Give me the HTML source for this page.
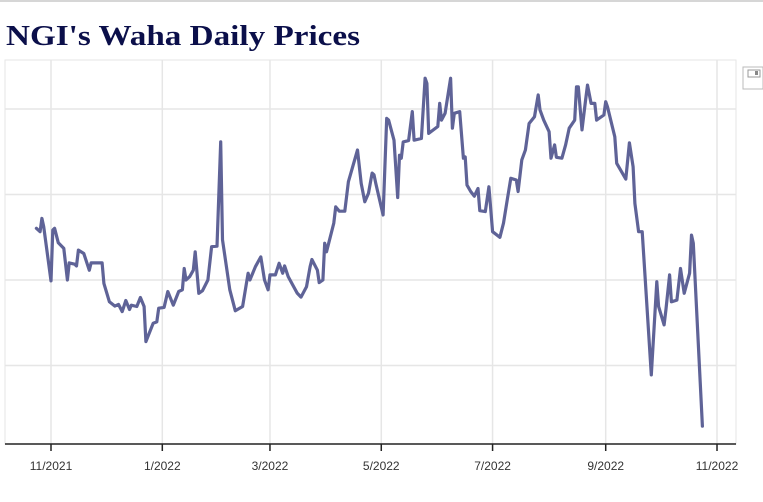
<!DOCTYPE html>
<html><head><meta charset="utf-8">
<style>
html,body{margin:0;padding:0;background:#fff;width:763px;height:502px;overflow:hidden}
svg{display:block}
</style></head>
<body>
<svg id="chart" width="763" height="502" viewBox="0 0 763 502" xmlns="http://www.w3.org/2000/svg">
<line x1="0" y1="1" x2="763" y2="1" stroke="#d6d6d6" stroke-width="2"/>
<text x="6" y="45" font-family="Liberation Serif, serif" font-weight="bold" font-size="28" fill="#0b0f4a" textLength="354" lengthAdjust="spacingAndGlyphs">NGI's Waha Daily Prices</text>
<rect x="5" y="60" width="731" height="384" fill="none" stroke="#e6e6e6" stroke-width="1"/>
<g id="grid"></g>
<g id="xaxis"></g>
<path id="series" fill="none" stroke="#5f6397" stroke-width="3.2" stroke-linejoin="round" stroke-linecap="round"/>
<g>
<rect x="743" y="67" width="20" height="22" fill="#fff" stroke="#bbb" stroke-width="1"/>
<rect x="748" y="70" width="12" height="7" fill="none" stroke="#999" stroke-width="1"/>
<rect x="755" y="71" width="3" height="4" fill="#888"/>
</g>
</svg>
<script>
// data: days since 2021-11-01 and price value
const days = [-8,-6,-5,-4,0,1,2,4,7,9,10,13,14,15,18,21,22,28,29,32,35,37,39,41,43,44,47,49,51,52,56,58,59,62,64,67,70,72,73,74,76,78,79,81,83,86,88,91,93,94,98,101,105,108,109,112,115,117,119,120,123,125,127,128,130,133,135,137,140,142,143,146,147,149,150,151,155,156,158,161,163,168,170,172,174,176,177,178,182,184,185,188,190,191,192,193,196,198,199,203,205,206,207,212,213,214,216,219,220,221,224,226,227,228,230,232,234,235,238,240,242,246,248,250,252,255,256,258,260,262,265,267,268,270,273,274,276,277,280,282,284,287,288,289,291,293,294,296,298,299,303,304,305,309,310,315,317,319,320,322,324,325,329,332,333,336,337,339,340,343,345,347,350,351,352,357];
const prices = [5.21,5.13,5.44,5.25,3.98,5.17,5.21,4.87,4.74,4.00,4.40,4.37,4.33,4.70,4.62,4.23,4.40,4.40,3.92,3.49,3.39,3.43,3.26,3.52,3.31,3.41,3.38,3.59,3.38,2.56,2.99,3.02,3.34,3.36,3.73,3.41,3.73,3.77,4.27,4.00,4.08,4.23,4.66,3.69,3.75,4.00,4.78,4.79,7.23,4.94,3.77,3.28,3.38,4.16,4.00,4.31,4.54,4.00,3.77,4.12,4.12,4.39,4.16,4.33,4.08,3.84,3.69,3.60,3.84,4.31,4.48,4.23,3.94,4.00,4.86,4.66,5.33,5.71,5.61,5.61,6.30,7.04,6.26,5.83,6.03,6.50,6.46,6.26,5.52,7.78,7.74,7.27,5.93,6.92,6.85,7.23,7.26,7.94,7.27,7.31,8.72,8.60,7.43,7.59,8.13,7.74,7.90,8.72,7.55,7.90,7.94,6.85,6.88,6.22,6.07,5.96,6.14,5.62,5.60,6.18,5.13,5.00,5.33,5.87,6.38,6.34,6.07,6.81,7.04,7.66,7.82,8.33,7.98,7.74,7.47,6.85,7.16,6.87,6.85,7.16,7.55,7.74,8.52,8.52,7.51,8.21,8.56,8.13,8.13,7.74,7.86,8.17,8.05,7.35,6.73,6.36,7.21,6.65,5.79,5.13,5.13,4.47,1.78,3.96,3.38,2.95,3.30,4.12,3.49,3.53,4.27,3.69,4.16,5.05,4.86,0.58];
const tickDays = [0,61,120,181,242,304,365];
const tickLabels = ["11/2021","1/2022","3/2022","5/2022","7/2022","9/2022","11/2022"];
const gridValues = [2,4,6,8];

const NS = "http://www.w3.org/2000/svg";
const xScale = d => 51 + d * 1.8247;
const yScale = v => 451 - v * 42.75;

const grid = document.getElementById('grid');
gridValues.forEach(v => {
  const l = document.createElementNS(NS, 'line');
  
  
  l.setAttribute('x1', 5); l.setAttribute('x2', 736);
  l.setAttribute('y1', yScale(v)); l.setAttribute('y2', yScale(v));
  l.setAttribute('stroke', '#e6e6e6'); l.setAttribute('stroke-width', '1.5');
  grid.appendChild(l);
});
const xa = document.getElementById('xaxis');
tickDays.forEach((d, i) => {
  const x = xScale(d);
  const g = document.createElementNS(NS, 'line');
  
  
  g.setAttribute('x1', x); g.setAttribute('x2', x); g.setAttribute('y1', 60); g.setAttribute('y2', 444);
  g.setAttribute('stroke', '#e6e6e6'); g.setAttribute('stroke-width', '1.5');
  grid.appendChild(g);
  const t = document.createElementNS(NS, 'line');
  
  
  t.setAttribute('x1', x); t.setAttribute('x2', x); t.setAttribute('y1', 444); t.setAttribute('y2', 451);
  t.setAttribute('stroke', '#222'); t.setAttribute('stroke-width', '1.5');
  xa.appendChild(t);
  const tx = document.createElementNS(NS, 'text');
  
  
  tx.setAttribute('x', x); tx.setAttribute('y', 470);
  tx.setAttribute('text-anchor', 'middle');
  tx.setAttribute('font-family', 'Liberation Sans, sans-serif');
  tx.setAttribute('font-size', '12');
  tx.setAttribute('fill', '#333');
  tx.textContent = tickLabels[i];
  xa.appendChild(tx);
});
const ax = document.createElementNS(NS, 'line');


ax.setAttribute('x1', 5); ax.setAttribute('x2', 736); ax.setAttribute('y1', 444); ax.setAttribute('y2', 444);
ax.setAttribute('stroke', '#222'); ax.setAttribute('stroke-width', '1.5');
xa.appendChild(ax);

let d = '';
days.forEach((dd, i) => { d += (i ? 'L' : 'M') + xScale(dd).toFixed(1) + ',' + yScale(prices[i]).toFixed(1); });
document.getElementById('series').setAttribute('d', d);
</script>
</body></html>
